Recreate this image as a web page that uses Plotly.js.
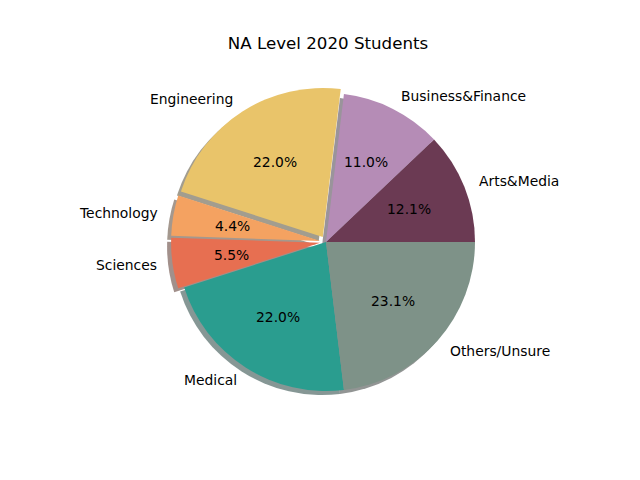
<!DOCTYPE html>
<html>
<head>
<meta charset="utf-8">
<script src="https://cdn.plot.ly/plotly-3.0.1.min.js"></script>
<style>html,body{margin:0;padding:0;background:#fff}#chart{width:640px;height:480px}</style>
</head>
<body>
<div id="chart"></div>
<script>
// Data
const categories = ["Arts&Media", "Business&Finance", "Engineering", "Technology", "Sciences", "Medical", "Others/Unsure"];
const counts = [11, 10, 20, 4, 5, 20, 21];
const explode = [0, 0, 0.04, 0.04, 0.04, 0, 0];
const colors = ["#6b3a53", "#b58cb6", "#e9c46a", "#f4a261", "#e76f51", "#2a9d8f", "#7e9288"];
const chartTitle = "NA Level 2020 Students";

// Geometry (pixels)
const W = 640, H = 480;
const cx = 326, cy = 242, R = 149;
const labelDist = 1.1, pctDist = 0.6;
const maxP = Math.max(...explode);
const total = counts.reduce((a, b) => a + b, 0);
// plotly's counterclockwise mode puts the END of the first slice at `rotation`;
// shift so the first slice STARTS at 3 o'clock (startangle 0)
const rot = 90 - 360 * counts[0] / total;
function domainFor(r, pmax, dx, dy) {
  const half = r * (1 + pmax);
  return {
    x: [(cx + dx - half) / W, (cx + dx + half) / W],
    y: [(H - (cy + dy) - half) / H, (H - (cy + dy) + half) / H]
  };
}
function shade(hex) {
  const n = parseInt(hex.slice(1), 16);
  const r = (n >> 16) & 255, g = (n >> 8) & 255, b = n & 255;
  return `rgba(${Math.round(r*0.3)},${Math.round(g*0.3)},${Math.round(b*0.3)},0.5)`;
}
const common = {
  type: "pie", labels: categories, values: counts, sort: false,
  direction: "counterclockwise", rotation: rot, hoverinfo: "skip",
  textinfo: "none", showlegend: false
};
const font = {family: "DejaVu Sans", size: 13.89, color: "#000"};

const shadow = Object.assign({}, common, {
  pull: explode, domain: domainFor(R, maxP, -4, 4),
  marker: {colors: colors.map(shade), line: {width: 0}}
});
const main = Object.assign({}, common, {
  pull: explode, domain: domainFor(R, maxP, 0, 0),
  marker: {colors: colors, line: {width: 0}}
});

// text placement: label at labelDist, percent at pctDist along each slice's mid-angle
const annotations = [];
let acc = 0;
counts.forEach((c, i) => {
  const mid = 2 * Math.PI * (acc + c / 2) / total;
  acc += c;
  const u = Math.cos(mid), v = Math.sin(mid);
  const toX = k => (cx + R * (k + explode[i]) * u) / W;
  const toY = k => (H - cy + R * (k + explode[i]) * v) / H;
  annotations.push({
    xref: "paper", yref: "paper", x: toX(labelDist), y: toY(labelDist),
    text: categories[i], showarrow: false, font: font,
    xanchor: u > 0 ? "left" : "right", yanchor: "middle", borderpad: 0
  });
  annotations.push({
    xref: "paper", yref: "paper", x: toX(pctDist), y: toY(pctDist),
    text: (100 * c / total).toFixed(1) + "%", showarrow: false, font: font,
    xanchor: "center", yanchor: "middle", borderpad: 0
  });
});

Plotly.newPlot("chart", [shadow, main], {
  width: W, height: H,
  margin: {l: 0, r: 0, t: 0, b: 0},
  paper_bgcolor: "#fff",
  showlegend: false,
  annotations: annotations,
  title: {text: chartTitle, font: {family: "DejaVu Sans", size: 16.67, color: "#000"},
          x: 328 / W, xanchor: "center", y: 1 - 43 / H, yanchor: "middle"}
}, {staticPlot: true});
</script>
</body>
</html>
